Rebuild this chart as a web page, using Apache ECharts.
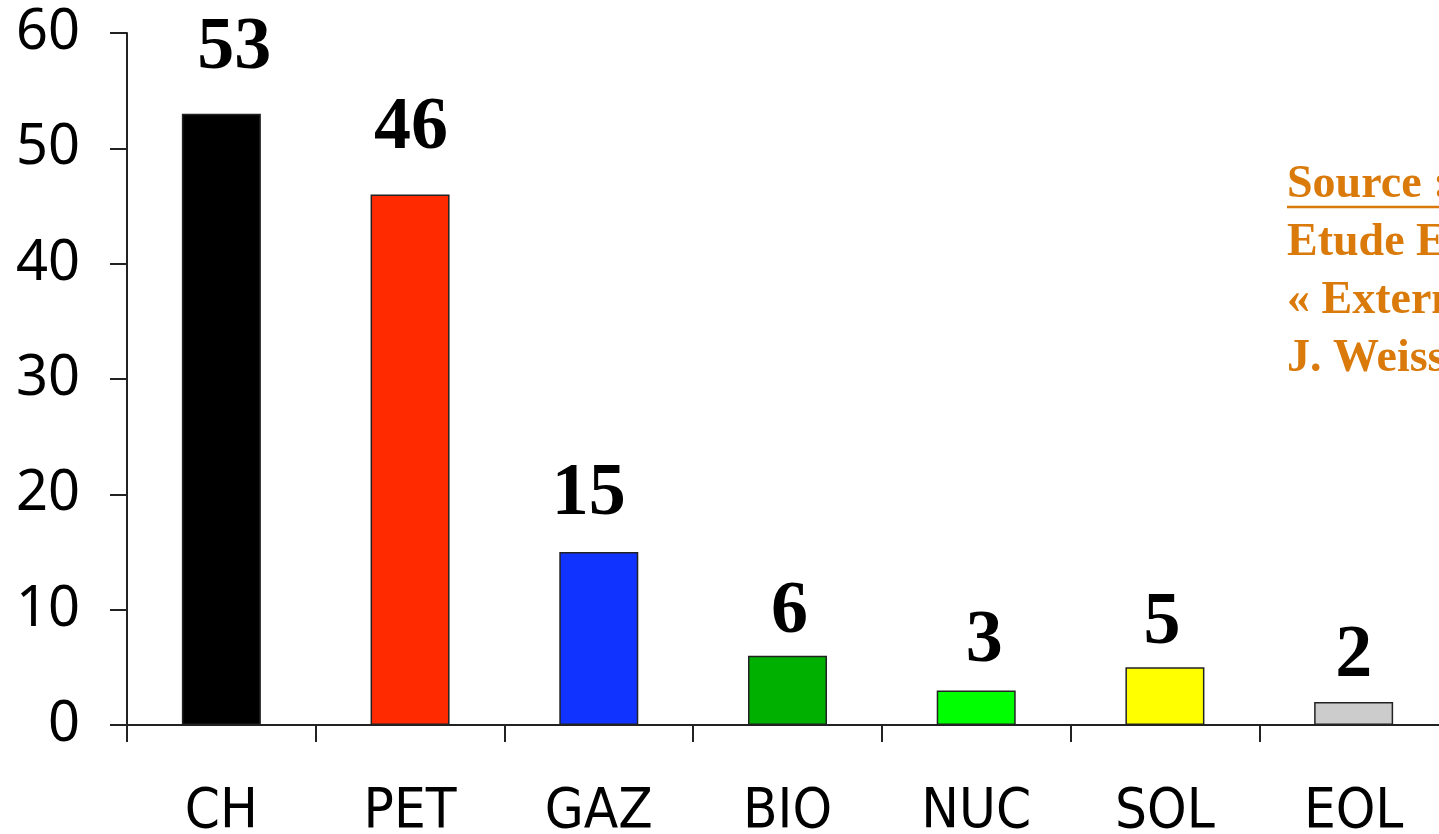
<!DOCTYPE html>
<html>
<head>
<meta charset="utf-8">
<script src="https://cdn.jsdelivr.net/npm/echarts@6/dist/echarts.min.js"></script>
<style>
html,body{margin:0;padding:0;background:#fff;}
#chart{width:1439px;height:834px;}
</style>
</head>
<body>
<div id="chart"></div>
<script>
const categories = ['CH', 'PET', 'GAZ', 'BIO', 'NUC', 'SOL', 'EOL'];
const values = [53, 46, 15, 6, 3, 5, 2];
const barColors = ['#000000', '#ff2a00', '#1033ff', '#00b000', '#00ff00', '#ffff00', '#cccccc'];
const labelGap = [28, 29, 20, 6, 12, 6, 8];
const labelShiftX = [13, 1, -10, 2, 8, -3, 0];
const yTicks = [0, 10, 20, 30, 40, 50, 60];
const sourceLines = ['Source :', 'Etude ExternE', '« Externalités »', 'J. Weisse'];

const chart = echarts.init(document.getElementById('chart'));
const orange = '#d97a0a';
const option = {
  backgroundColor: '#ffffff',
  animation: false,
  grid: { left: 127, top: 33, width: 1321, height: 692, containLabel: false, outerBoundsMode: 'none' },
  xAxis: {
    type: 'category',
    data: categories,
    boundaryGap: true,
    axisLine: { lineStyle: { color: '#222', width: 2 } },
    axisTick: { show: true, length: 17, interval: 0, lineStyle: { color: '#222', width: 2 } },
    axisLabel: {
      interval: 0, margin: 59, color: '#000',
      fontFamily: '"DejaVu Sans Condensed", "Liberation Sans Narrow", "Liberation Sans", sans-serif',
      fontSize: 56
    }
  },
  yAxis: {
    type: 'value',
    min: yTicks[0], max: yTicks[yTicks.length - 1], interval: 10,
    splitLine: { show: false },
    axisLine: { show: true, lineStyle: { color: '#222', width: 2 } },
    axisTick: { show: true, length: 17, lineStyle: { color: '#222', width: 2 } },
    axisLabel: {
      margin: 47, color: '#000',
      fontFamily: '"Noto Sans", sans-serif', fontSize: 56
    }
  },
  series: [{
    type: 'bar',
    barWidth: 79,
    data: values.map((v, i) => ({
      value: v,
      itemStyle: { color: barColors[i] },
      label: { distance: labelGap[i], offset: [labelShiftX[i], 0] }
    })),
    itemStyle: { borderColor: '#222', borderWidth: 1.5 },
    label: {
      show: true, position: 'top', color: '#000',
      fontFamily: '"Liberation Serif", "Times New Roman", serif',
      fontWeight: 'bold', fontSize: 74
    }
  }],
  graphic: [
    ...sourceLines.map((t, i) => ({
      type: 'text', left: 1287, top: 162 + i * 58,
      style: {
        text: t, fill: orange,
        font: 'bold 46px "Liberation Serif", "Times New Roman", serif'
      }
    })),
    {
      type: 'line',
      shape: { x1: 1287, y1: 207, x2: 1439, y2: 207 },
      style: { stroke: orange, lineWidth: 2.5 }
    }
  ]
};
chart.setOption(option);
</script>
</body>
</html>
